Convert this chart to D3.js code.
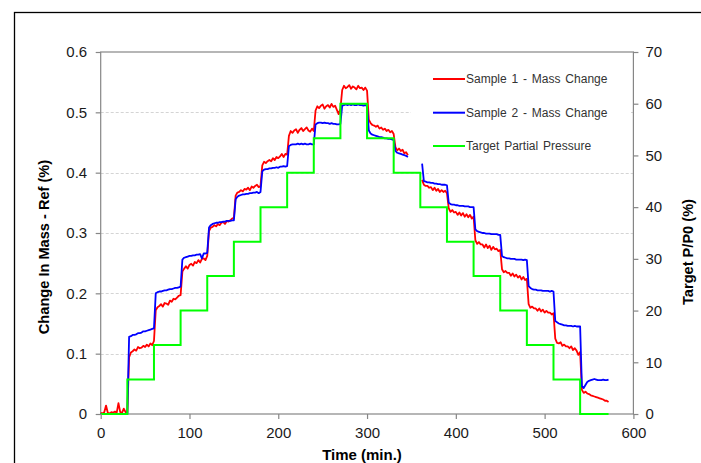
<!DOCTYPE html>
<html><head><meta charset="utf-8">
<script src="https://cdn.jsdelivr.net/npm/d3@7"></script>
<style>body{margin:0;background:#fff;overflow:hidden} svg{display:block} text{font-family:"Liberation Sans",Arial,sans-serif}</style>
</head><body><svg id="chart" width="701" height="463"></svg>
<script>
const time = [0,2,4,6,8,10,12,14,16,18,20,22,24,26,28,30,32,34,36,38,40,42,44,46,48,50,52,54,56,58,60,62,64,66,68,70,72,74,76,78,80,82,84,86,88,90,92,94,96,98,100,102,104,106,108,110,112,114,116,118,120,122,124,126,128,130,132,134,136,138,140,142,144,146,148,150,152,154,156,158,160,162,164,166,168,170,172,174,176,178,180,182,184,186,188,190,192,194,196,198,200,202,204,206,208,210,212,214,216,218,220,222,224,226,228,230,232,234,236,238,240,242,244,246,248,250,252,254,256,258,260,262,264,266,268,270,272,274,276,278,280,282,284,286,288,290,292,294,296,298,300,302,304,306,308,310,312,314,316,318,320,322,324,326,328,330,332,334,336,338,340,342,344,346,348,350,352,354,356,358,360,362,364,366,368,370,372,374,376,378,380,382,384,386,388,390,392,394,396,398,400,402,404,406,408,410,412,414,416,418,420,422,424,426,428,430,432,434,436,438,440,442,444,446,448,450,452,454,456,458,460,462,464,466,468,470,472,474,476,478,480,482,484,486,488,490,492,494,496,498,500,502,504,506,508,510,512,514,516,518,520,522,524,526,528,530,532,534,536,538,540,542,544,546,548,550,552,554,556,558,560,562,564,566,568,570,572];

const sample1 = [
0.002,0.001,0.003,0.014,0.002,0.001,0.003,0.002,0.004,0.002,0.018,0.003,0.002,0.009,0.003,0.002,
0.094,0.102,0.104,0.107,0.105,0.111,0.109,0.110,0.113,0.111,0.115,0.112,0.117,0.114,0.121,
0.172,0.177,0.179,0.182,0.178,0.184,0.183,0.181,0.188,0.186,0.191,0.190,0.193,0.196,0.197,
0.236,0.241,0.245,0.241,0.247,0.249,0.246,0.252,0.250,0.255,0.251,0.257,0.258,0.255,0.262,
0.303,0.309,0.310,0.313,0.311,0.315,0.313,0.317,0.318,0.315,0.320,0.319,0.321,0.324,0.325,
0.362,0.367,0.368,0.371,0.369,0.373,0.372,0.375,0.371,0.377,0.375,0.378,0.380,0.376,0.378,
0.412,0.418,0.416,0.419,0.421,0.419,0.424,0.421,0.426,0.424,0.427,0.431,0.426,0.431,0.430,
0.461,0.469,0.466,0.470,0.472,0.466,0.471,0.474,0.469,0.472,0.475,0.470,0.468,0.473,0.469,
0.503,0.510,0.507,0.511,0.513,0.506,0.510,0.512,0.508,0.514,0.509,0.511,0.504,0.497,0.506,
0.537,0.544,0.540,0.542,0.545,0.539,0.543,0.541,0.538,0.544,0.540,0.541,0.537,0.541,0.536,
0.488,0.482,0.479,0.478,0.476,0.478,0.473,0.475,0.471,0.473,0.469,0.471,0.467,0.469,0.464,
0.442,0.437,0.440,0.436,0.438,0.432,0.434,0.429,
null,null,null,null,null,null,null,
0.388,0.380,0.378,0.378,0.375,0.376,0.371,0.375,0.370,0.373,0.368,0.371,0.368,0.370,0.366,
0.341,0.335,0.338,0.334,0.335,0.330,0.334,0.329,0.333,0.327,0.331,0.326,0.330,0.324,0.327,
0.288,0.282,0.285,0.281,0.281,0.276,0.281,0.275,0.279,0.272,0.277,0.273,0.274,0.270,0.272,
0.240,0.235,0.237,0.234,0.234,0.229,0.233,0.228,0.231,0.226,0.229,0.223,0.227,0.222,0.224,
0.182,0.176,0.178,0.175,0.175,0.171,0.175,0.170,0.173,0.168,0.171,0.168,0.168,0.165,0.167,
0.125,0.118,0.117,0.119,0.113,0.115,0.112,0.112,0.109,0.112,0.106,0.109,0.105,0.098,0.103,
0.040,0.035,0.037,0.034,0.033,0.031,0.030,0.029,0.028,0.027,0.026,0.025,0.024,0.022,0.022,0.020];

const sample2 = [
0,0,0,0,0,0,0,0,0,0,0,0,0,0,0,0,
0.128,0.129,0.131,0.131,0.132,0.134,0.134,0.135,0.137,0.137,0.138,0.139,0.140,0.141,0.142,
0.200,0.202,0.203,0.203,0.204,0.205,0.205,0.206,0.207,0.207,0.208,0.209,0.209,0.210,0.211,
0.256,0.259,0.260,0.261,0.262,0.262,0.263,0.263,0.264,0.264,0.265,0.258,0.266,0.266,0.267,
0.309,0.313,0.315,0.316,0.317,0.317,0.318,0.318,0.319,0.319,0.320,0.320,0.320,0.321,0.321,
0.356,0.360,0.362,0.363,0.364,0.364,0.365,0.365,0.366,0.366,0.367,0.367,0.368,0.366,0.368,
0.402,0.405,0.406,0.406,0.407,0.407,0.408,0.408,0.409,0.408,0.410,0.410,0.411,0.410,0.411,
0.444,0.446,0.447,0.447,0.447,0.448,0.447,0.448,0.447,0.448,0.447,0.447,0.448,0.447,0.447,
0.480,0.482,0.483,0.483,0.482,0.483,0.482,0.482,0.481,0.482,0.481,0.481,0.480,0.480,0.481,
0.511,0.512,0.513,0.512,0.513,0.512,0.513,0.512,0.512,0.513,0.512,0.512,0.511,0.512,0.511,
0.470,0.465,0.463,0.462,0.461,0.460,0.459,0.459,0.458,0.457,0.457,0.456,0.456,0.455,0.454,
0.436,0.433,0.432,0.431,0.430,0.429,0.428,0.426,
null,null,null,null,null,null,null,
0.415,0.386,0.385,0.384,0.384,0.383,0.383,0.382,0.382,0.381,0.381,0.380,0.380,0.380,0.379,
0.350,0.348,0.347,0.347,0.346,0.346,0.345,0.345,0.345,0.344,0.344,0.344,0.343,0.343,0.343,
0.306,0.303,0.302,0.301,0.300,0.300,0.299,0.299,0.299,0.298,0.298,0.298,0.298,0.297,0.297,
0.262,0.260,0.259,0.258,0.258,0.257,0.257,0.257,0.256,0.256,0.256,0.256,0.255,0.256,0.255,
0.212,0.209,0.207,0.206,0.206,0.205,0.205,0.205,0.204,0.204,0.204,0.204,0.203,0.204,0.203,
0.154,0.152,0.150,0.149,0.148,0.147,0.147,0.146,0.146,0.146,0.145,0.146,0.145,0.145,0.145,
0.046,0.043,0.048,0.053,0.055,0.056,0.057,0.058,0.057,0.056,0.056,0.056,0.057,0.056,0.056,0.057];

const targetTime = [0,30,60,90,120,150,180,210,240,270,300,330,360,390,420,450,480,510,540,572];
const targetPressure = [0,6.67,13.33,20,26.67,33.33,40,46.67,53.33,60,53.33,46.67,40,33.33,26.67,20,13.33,6.67,0,0];

const xTicks = [0,100,200,300,400,500,600];
const leftTicks = [0,0.1,0.2,0.3,0.4,0.5,0.6];
const leftTickLabels = ["0","0.1","0.2","0.3","0.4","0.5","0.6"];
const rightTicks = [0,10,20,30,40,50,60,70];
const seriesNames = ["Sample 1 - Mass Change","Sample 2 - Mass Change","Target Partial Pressure"];
const seriesColors = ["#ff0000","#0000ff","#00ff00"];

const svg = d3.select("#chart");
const L = 100.7, R = 633.4, T = 52, B = 414;
const x = d3.scaleLinear().domain([0,600]).range([L,R]);
const yL = d3.scaleLinear().domain([0,0.6]).range([B,T]);
const yR = d3.scaleLinear().domain([0,70]).range([B,T]);

// outer border
svg.append("rect").attr("x",14.5).attr("y",12.5).attr("width",900).attr("height",700)
  .attr("fill","none").attr("stroke","#000").attr("stroke-width",1.3);

// gridlines
svg.append("g").selectAll("line").data(leftTicks.filter(d=>d>0 && d<0.6)).join("line")
  .attr("x1",L).attr("x2",R).attr("y1",d=>Math.round(yL(d))+0.5).attr("y2",d=>Math.round(yL(d))+0.5)
  .attr("stroke","#d4d4d4").attr("stroke-dasharray","3,2").attr("stroke-width",1);

// plot frame
svg.append("rect").attr("x",L).attr("y",T).attr("width",R-L).attr("height",B-T)
  .attr("fill","none").attr("stroke","#868686").attr("stroke-width",1.2);

const s1 = time.map((t,i)=>({t, v: sample1[i]}));
const s2 = time.map((t,i)=>({t, v: sample2[i]}));
const lineL = d3.line().defined(d=>d.v!==null).x(d=>x(d.t)).y(d=>yL(d.v));
svg.append("path").datum(s1).attr("d",lineL).attr("fill","none").attr("stroke",seriesColors[0]).attr("stroke-width",1.8).attr("stroke-linejoin","round");
svg.append("path").datum(s2).attr("d",lineL).attr("fill","none").attr("stroke",seriesColors[1]).attr("stroke-width",1.8).attr("stroke-linejoin","round");
const tp = targetTime.map((t,i)=>({t, v: targetPressure[i]}));
svg.append("path").datum(tp).attr("d",d3.line().curve(d3.curveStepAfter).x(d=>x(d.t)).y(d=>yR(d.v)))
  .attr("fill","none").attr("stroke",seriesColors[2]).attr("stroke-width",2);

// legend
svg.append("rect").attr("x",411).attr("y",62).attr("width",220).attr("height",98).attr("fill","#fff");
const legY = [79,112.7,146];
seriesNames.forEach((n,i)=>{
  svg.append("line").attr("x1",433).attr("x2",465).attr("y1",legY[i]).attr("y2",legY[i])
    .attr("stroke",seriesColors[i]).attr("stroke-width",2);
  svg.append("text").attr("x",466).attr("y",legY[i]).attr("dy","0.36em")
    .attr("font-size",12).attr("fill","#333").attr("word-spacing","1.5px").text(n);
});

function styleAxis(g){
  g.select(".domain").remove();
  g.selectAll(".tick line").attr("stroke","#868686").attr("stroke-width",1.2);
  g.selectAll(".tick text").attr("fill","#1a1a1a").attr("font-size",15)
   .attr("font-family","'Liberation Sans',Arial,sans-serif");
}
svg.append("g").attr("transform",`translate(${L},0)`)
  .call(d3.axisLeft(yL).tickValues(leftTicks).tickSize(5).tickPadding(8.5).tickFormat((d,i)=>leftTickLabels[i]))
  .call(styleAxis);
svg.append("g").attr("transform",`translate(0,${B})`)
  .call(d3.axisBottom(x).tickValues(xTicks).tickSize(5).tickPadding(8.3).tickFormat(d3.format("d")))
  .call(styleAxis);
svg.append("g").attr("transform",`translate(${R},0)`)
  .call(d3.axisRight(yR).tickValues(rightTicks).tickSize(5).tickPadding(7).tickFormat(d3.format("d")))
  .call(styleAxis);

// titles
svg.append("text").attr("transform","translate(44,247) rotate(-90)").attr("text-anchor","middle")
  .attr("dy","0.36em").attr("font-size",14.6).attr("font-weight","bold").attr("fill","#000")
  .text("Change In Mass - Ref (%)");
svg.append("text").attr("transform","translate(688,252) rotate(-90)").attr("text-anchor","middle")
  .attr("dy","0.36em").attr("font-size",14.6).attr("font-weight","bold").attr("fill","#000")
  .text("Target P/P0 (%)");
svg.append("text").attr("x",362).attr("y",459.5).attr("text-anchor","middle")
  .attr("font-size",15).attr("font-weight","bold").attr("fill","#000").text("Time (min.)");
</script></body></html>
